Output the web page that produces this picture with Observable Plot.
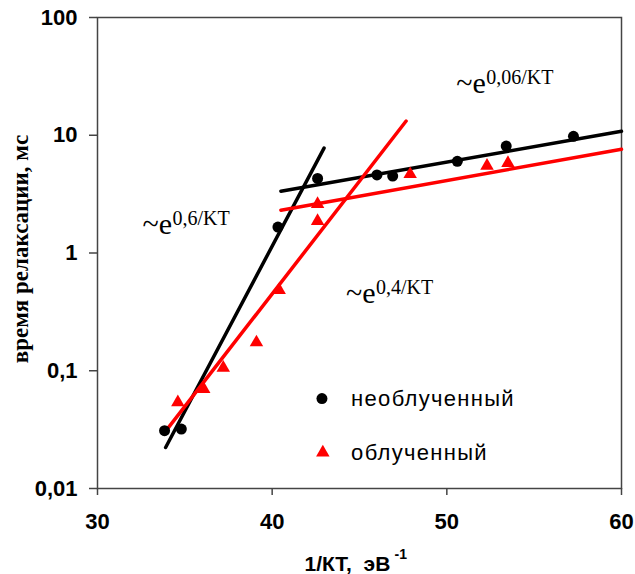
<!DOCTYPE html>
<html><head><meta charset="utf-8">
<script src="https://cdn.jsdelivr.net/npm/d3@7"></script>
<script src="https://cdn.jsdelivr.net/npm/@observablehq/plot@0.6"></script>
<style>
body{margin:0;background:#fff}
g[aria-label="y-axis tick label"] text, g[aria-label="x-axis tick label"] text{font-weight:bold}
</style>
</head><body><div id="chart"></div>
<script>
// необлученный (non-irradiated)
const xUnirr = [33.84, 34.8, 40.33, 42.6, 46.0, 46.9, 50.6, 53.4, 57.25];
const yUnirr = [0.031, 0.032, 1.66, 4.3, 4.6, 4.5, 6.0, 8.1, 9.8];
// облученный (irradiated)
const xIrr = [34.6, 36.08, 37.2, 39.1, 40.4, 42.6, 42.6, 47.9, 52.3, 53.5];
const yIrr = [0.054, 0.070, 0.106, 0.174, 0.485, 1.87, 2.6, 4.67, 5.5, 5.8];
// fitted lines: [x0, y0, x1, y1]
const fitUnirrSteep = [33.9, 0.0223, 42.97, 7.77];
const fitUnirrFlat  = [40.5, 3.35, 60, 10.8];
const fitIrrSteep   = [34.07, 0.033, 47.67, 13.2];
const fitIrrFlat    = [40.5, 2.31, 60, 7.6];
const xTicks = [30, 40, 50, 60];
const yTicks = [0.01, 0.1, 1, 10, 100];
const seriesNames = ["необлученный", "облученный"];
const annotations = [
  {x: 32.58, y: 1.45, sup: "0,6/KT"},
  {x: 50.54, y: 22.7, sup: "0,06/KT"},
  {x: 44.23, y: 0.377, sup: "0,4/KT"}
];

const ptsU = xUnirr.map((x, i) => ({x, y: yUnirr[i]}));
const ptsI = xIrr.map((x, i) => ({x, y: yIrr[i]}));
const seg = f => [{x: f[0], y: f[1]}, {x: f[2], y: f[3]}];

const serif = "'Liberation Serif', 'Times New Roman', serif";
const sans = "'Liberation Sans', Arial, sans-serif";

const chart = Plot.plot({
  width: 635, height: 574,
  marginLeft: 97, marginRight: 14, marginTop: 17, marginBottom: 86,
  style: {background: "#fff", fontFamily: sans, color: "#000"},
  x: {domain: [30, 60]},
  y: {type: "log", domain: [0.01, 100]},
  marks: [
    Plot.frame({stroke: "#444", strokeWidth: 1.5}),
    Plot.axisX({ticks: xTicks, tickSize: 7, tickPadding: 18, fontSize: 22, fontWeight: "bold", label: null, stroke: "#444", strokeWidth: 1.5, tickFormat: d => String(d)}),
    Plot.axisY({ticks: yTicks, tickSize: 8, tickPadding: 12, fontSize: 22, fontWeight: "bold", label: null, stroke: "#444", strokeWidth: 1.5, tickFormat: d => String(d).replace(".", ",")}),
    // axis titles
    Plot.text(["время релаксации, мс"], {frameAnchor: "left", rotate: -90, dx: -77, dy: -4, fontFamily: serif, fontWeight: "bold", fontSize: 23, textAnchor: "middle", lineAnchor: "middle"}),
    Plot.text(["1/КТ,\u00a0\u00a0эВ"], {frameAnchor: "bottom-left", dx: 207, dy: 82, textAnchor: "start", lineAnchor: "bottom", fontWeight: "bold", fontSize: 21}),
    Plot.text(["-1"], {frameAnchor: "bottom-left", dx: 297, dy: 70, textAnchor: "start", lineAnchor: "bottom", fontWeight: "bold", fontSize: 14}),
    // fitted lines
    Plot.line(seg(fitUnirrSteep), {x: "x", y: "y", stroke: "#000", strokeWidth: 3.5}),
    Plot.line(seg(fitUnirrFlat), {x: "x", y: "y", stroke: "#000", strokeWidth: 3.5}),
    Plot.line(seg(fitIrrSteep), {x: "x", y: "y", stroke: "#ff0000", strokeWidth: 3.5}),
    Plot.line(seg(fitIrrFlat), {x: "x", y: "y", stroke: "#ff0000", strokeWidth: 3.5}),
    // data points
    Plot.dot(ptsU, {x: "x", y: "y", r: 5.5, fill: "#000", stroke: "none"}),
    Plot.dot(ptsI, {x: "x", y: "y", r: 5, symbol: "triangle", fill: "#ff0000", stroke: "none"}),
    // annotations
    Plot.text(annotations, {x: "x", y: "y", text: () => "~e", textAnchor: "start", lineAnchor: "bottom", fontFamily: serif, fontSize: 30}),
    Plot.text(annotations, {x: "x", y: "y", text: "sup", dx: 30, dy: -9, textAnchor: "start", lineAnchor: "bottom", fontFamily: serif, fontSize: 20}),
    // legend
    Plot.dot([{x: 42.85, y: 0.058}], {x: "x", y: "y", r: 5.5, fill: "#000", stroke: "none"}),
    Plot.dot([{x: 42.9, y: 0.0202}], {x: "x", y: "y", r: 5, symbol: "triangle", fill: "#ff0000", stroke: "none"}),
    Plot.text([{x: 44.52, y: 0.058, t: seriesNames[0]}, {x: 44.52, y: 0.0202, t: seriesNames[1]}], {x: "x", y: "y", text: "t", textAnchor: "start", lineAnchor: "middle", fontSize: 22})
  ]
});
d3.select(chart).selectAll("text")
  .filter(function() { return seriesNames.includes(this.textContent); })
  .attr("letter-spacing", "1.3px");
document.getElementById("chart").appendChild(chart);
</script>
</body></html>
